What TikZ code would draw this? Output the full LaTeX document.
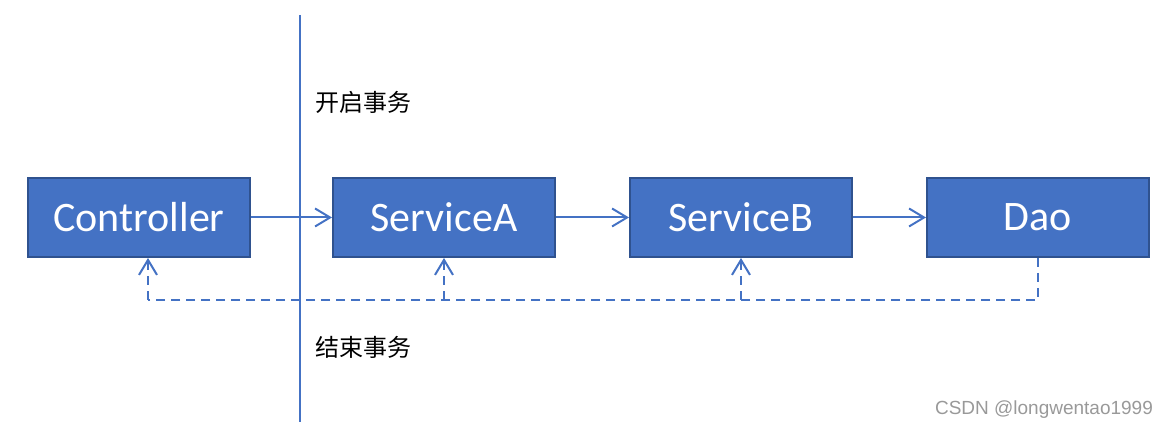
\documentclass[tikz,border=0pt]{standalone}
\usepackage{fontspec}
\setmainfont{Carlito}
\newfontfamily\cjk{Noto Sans CJK SC}
\newfontfamily\wmfont{Liberation Sans}
\usetikzlibrary{arrows.meta,positioning}
\definecolor{boxblue}{HTML}{4472C4}
\definecolor{boxedge}{HTML}{2F528F}

\begin{document}
\begin{tikzpicture}[x=0.5pt,y=0.5pt]
    \tikzstyle{layer}=[draw=boxedge, line width=1pt, fill=boxblue, text=white,
                       minimum width=111pt, minimum height=39.5pt, inner sep=0pt,
                       font=\fontsize{21}{25}\selectfont]
    \tikzstyle{call}=[draw=boxblue, line width=1pt, -{Straight Barb[length=7.5pt,width=9pt]}]
    \tikzstyle{back}=[draw=boxblue, line width=1pt, dash pattern=on 4.5pt off 3pt]
    \tikzstyle{note}=[font=\cjk\fontsize{12}{14}\selectfont, anchor=west, inner sep=0pt]

    \useasboundingbox (0,0) rectangle (1175,431);

    \node[layer] (ctrl) at (139,213.5) {Controller};
    \node[layer, right=40.5pt of ctrl] (svcA) {ServiceA};
    \node[layer, right=36.5pt of svcA] (svcB) {ServiceB};
    \node[layer, right=36.5pt of svcB] (dao) {Dao};

    % transaction boundary
    \coordinate (top) at (300,416);
    \coordinate (bottom) at (300,9);
    \draw[boxblue, line width=1pt] (top) -- (bottom);
    \node[note] (begin) at (315,329) {开启事务};
    \node[note] (commit) at (315,84) {结束事务};

    % calls
    \draw[call] (ctrl) -- (svcA);
    \draw[call] (svcA) -- (svcB);
    \draw[call] (svcB) -- (dao);

    % returns
    \coordinate (ret) at (148,131);
    \draw[back] (dao.south) |- (ret);
    \draw[back, -{Straight Barb[length=7.5pt,width=9pt]}] (ret) -- (ret |- ctrl.south);
    \draw[back, -{Straight Barb[length=7.5pt,width=9pt]}] (svcA.south |- ret) -- (svcA.south);
    \draw[back, -{Straight Barb[length=7.5pt,width=9pt]}] (svcB.south |- ret) -- (svcB.south);

    \node[font=\wmfont\fontsize{9.5}{11}\selectfont, text=black!40, anchor=east] (mark) at (1160,21) {CSDN @longwentao1999};
\end{tikzpicture}
\end{document}
